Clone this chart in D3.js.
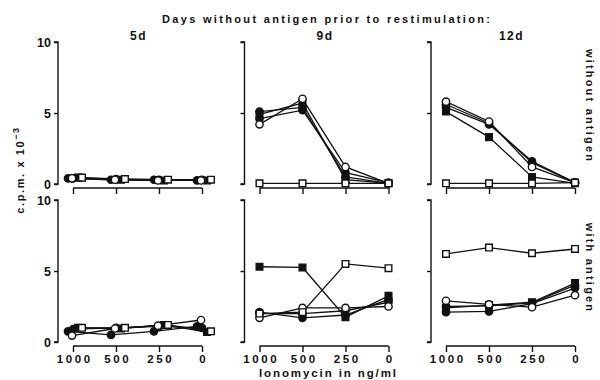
<!DOCTYPE html>
<html><head><meta charset="utf-8">
<script src="https://cdn.jsdelivr.net/npm/d3@7"></script>
<style>
body{margin:0;background:#fff}
svg{display:block}
text{font-family:"Liberation Sans",Arial,Helvetica,sans-serif;font-weight:bold;fill:#111}
</style>
</head><body><svg id="c" width="600" height="380"></svg>
<script>
const doses = ["1000","500","250","0"];
const days = ["5d","9d","12d"];
const conditions = ["without antigen","with antigen"];
const yTicks = [0,5,10];
const titleText = "Days without antigen prior to restimulation:";
const xTitle = "Ionomycin in ng/ml";
// series order: S1 filled circle, S2 filled square, S3 filled circle, S4 open circle, S5 open square
const seriesSymbol = ["circle","square","circle","circle","square"];
const seriesFilled = [true,true,true,false,false];

// c.p.m. x 10^-3, one row per series, columns follow doses
const without5d = [
  [0.40,0.30,0.30,0.25],
  [0.45,0.30,0.25,0.25],
  [0.40,0.35,0.30,0.30],
  [0.40,0.30,0.25,0.25],
  [0.45,0.35,0.30,0.30]
];
const without9d = [
  [5.1,5.4,0.5,0.05],
  [4.9,5.7,0.3,0.05],
  [4.6,5.2,0.8,0.10],
  [4.2,6.0,1.2,0.05],
  [0.05,0.05,0.05,0.05]
];
const without12d = [
  [5.4,4.2,1.6,0.10],
  [5.1,3.3,0.5,0.05],
  [5.6,4.3,1.5,0.10],
  [5.8,4.4,1.2,0.10],
  [0.05,0.05,0.05,0.10]
];
const with5d = [
  [0.75,0.50,0.75,1.10],
  [1.00,0.95,1.20,0.70],
  [0.90,1.00,1.10,1.00],
  [0.45,0.95,1.15,1.55],
  [1.00,1.00,1.20,0.75]
];
const with9d = [
  [2.1,1.7,1.9,3.0],
  [5.3,5.25,1.75,3.25],
  [2.0,2.0,2.2,2.8],
  [1.7,2.4,2.4,2.5],
  [2.0,2.1,5.5,5.2]
];
const with12d = [
  [2.1,2.15,2.7,3.8],
  [2.4,2.6,2.8,4.15],
  [2.5,2.55,2.75,4.0],
  [2.9,2.65,2.45,3.3],
  [6.2,6.65,6.25,6.55]
];
const panels = [[without5d,without9d,without12d],[with5d,with9d,with12d]];

// layout
const colLeft = [73, 259.5, 446], colWidth = 129;
const rowY0 = [184, 342], rowY10 = [42, 200];
const jitter5d = [-5, 5, 0, -1, 9];

const svg = d3.select("#c");

svg.append("text").attr("x",162).attr("y",23).attr("font-size",11)
  .attr("textLength",328).attr("lengthAdjust","spacing").text(titleText);

days.forEach((d,ci)=>{
  svg.append("text").attr("x",colLeft[ci]+colWidth/2+1).attr("y",40)
    .attr("text-anchor","middle").attr("font-size",12).attr("letter-spacing",1.5).text(d);
});

conditions.forEach((c,ri)=>{
  const cy = ri===0 ? 106 : 268;
  svg.append("text").attr("transform",`translate(586,${cy}) rotate(90)`)
    .attr("text-anchor","middle").attr("font-size",11).attr("letter-spacing",2.2).text(c);
});

// y-axis title
const yl = svg.append("text").attr("transform","translate(24,170) rotate(-90)")
  .attr("text-anchor","middle").attr("font-size",11).attr("letter-spacing",1.6);
yl.append("tspan").text("c.p.m. x 10");
yl.append("tspan").attr("dy",-5).attr("font-size",9).text("−3");

svg.append("text").attr("x",259).attr("y",377).attr("font-size",11.5)
  .attr("textLength",137).attr("lengthAdjust","spacing").text(xTitle);

const sym = {circle:d3.symbolCircle, square:d3.symbolSquare};

panels.forEach((row,ri)=>{
  row.forEach((data,ci)=>{
    const x = d3.scalePoint().domain(doses).range([colLeft[ci], colLeft[ci]+colWidth]);
    const y = d3.scaleLinear().domain([0,10]).range([rowY0[ri], rowY10[ri]]);
    const axX = colLeft[ci]-15;
    const g = svg.append("g");

    // y axis
    const ya = g.append("g").attr("transform",`translate(${axX},0)`)
      .call(d3.axisLeft(y).tickValues(yTicks).tickSize(4).tickPadding(3)
        .tickFormat(ci===0 ? d3.format("d") : ""));
    ya.select(".domain").attr("d",`M-4,${y(10)}H0V${y(0)}H-4`).attr("stroke","#111").attr("stroke-width",1.4);
    ya.selectAll(".tick line").attr("stroke","#111").attr("stroke-width",1.4);
    ya.selectAll(".tick text").attr("font-size",12.5).attr("fill","#111")
      .style("font-family",'"Liberation Sans",Arial,sans-serif').style("font-weight","bold");

    // x axis
    const xa = g.append("g").attr("transform",`translate(0,${rowY0[ri]+4})`)
      .call(d3.axisBottom(x).tickSize(6).tickPadding(3).tickFormat(ri===1 ? (t=>t) : ""));
    xa.select(".domain").attr("d",`M${x(doses[0])},0H${x(doses[3])}`).attr("stroke","#111").attr("stroke-width",1.4);
    xa.selectAll(".tick line").attr("stroke","#111").attr("stroke-width",1.4);
    xa.selectAll(".tick text").attr("font-size",11.5).attr("fill","#111").attr("letter-spacing",2.6)
      .attr("dx",1.3)
      .style("font-family",'"Liberation Sans",Arial,sans-serif').style("font-weight","bold");

    const off = si => ci===0 ? jitter5d[si] : 0;
    const line = si => d3.line().x((v,i)=>x(doses[i])+off(si)).y(v=>y(v));

    // lines first
    data.forEach((vals,si)=>{
      g.append("path").datum(vals).attr("d",line(si)).attr("fill","none")
        .attr("stroke","#111").attr("stroke-width",1.3);
    });
    // markers: filled first, then open
    const order = [0,2,1,3,4];
    order.forEach(si=>{
      const vals = data[si];
      const isSq = seriesSymbol[si]==="square";
      g.selectAll(null).data(vals).enter().append("path")
        .attr("transform",(v,i)=>`translate(${x(doses[i])+off(si)},${y(v)})`)
        .attr("d",d3.symbol().type(sym[seriesSymbol[si]]).size(isSq?44:42))
        .attr("fill",seriesFilled[si]?"#111":"#fff")
        .attr("stroke","#111").attr("stroke-width",1.4);
    });
  });
});
</script>
</body></html>
